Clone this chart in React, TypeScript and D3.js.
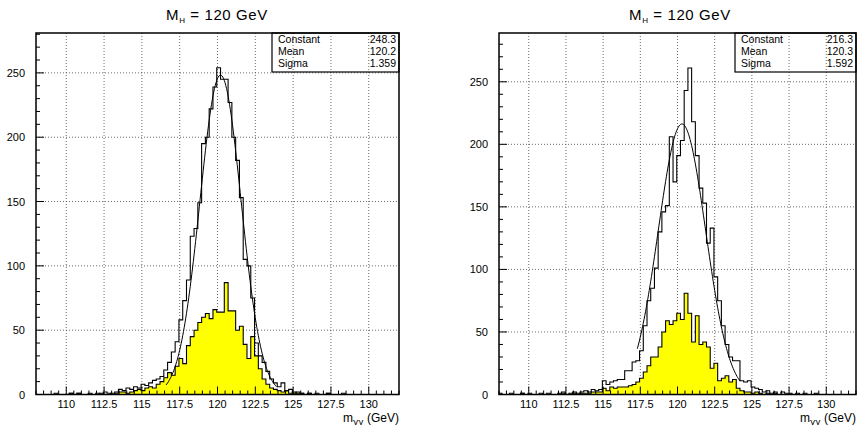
import React from "react";
import * as d3 from "d3";

// histogram binning (GeV)
const BIN_START = 107.95;
const BIN_WIDTH = 0.25;

// left panel: all events (outline) and subset (yellow)
const leftTotal = [
  0, 0, 0, 0, 0, 1, 0, 0,
  0, 1, 0, 1, 0, 0, 1, 0,
  1, 0, 2, 1, 0, 2, 4, 3,
  5, 4, 6, 5, 8, 7, 9, 11,
  12, 14, 19, 25, 33, 41, 58, 73,
  89, 123, 129, 149, 195, 200, 222, 239,
  254, 245, 245, 227, 200, 182, 153, 105,
  100, 75, 40, 30, 25, 18, 12, 9,
  6, 9, 3, 4, 1, 2, 1, 0,
  1, 0, 1, 0, 0, 1, 0, 0,
  0, 1, 0, 0, 0, 0, 0, 0,
  0, 0, 0, 0, 0, 0, 0, 0, 0,
];
const leftSub = [
  0, 0, 0, 0, 0, 0, 0, 0,
  0, 1, 0, 1, 0, 0, 0, 0,
  0, 1, 0, 0, 1, 1, 2, 2,
  1, 2, 3, 4, 3, 5, 6, 5,
  8, 10, 13, 17, 15, 22, 28, 24,
  38, 45, 50, 56, 60, 63, 59, 66,
  64, 64, 87, 65, 65, 50, 53, 39,
  28, 45, 30, 20, 12, 8, 5, 4,
  3, 2, 3, 1, 2, 1, 1, 0,
  1, 0, 0, 0, 0, 1, 0, 0,
  0, 0, 0, 0, 0, 0, 0, 0,
  0, 0, 0, 0, 0, 0, 0, 0, 0,
];

// right panel
const rightTotal = [
  1, 0, 0, 1, 0, 0, 1, 0,
  1, 0, 0, 1, 0, 1, 0, 0,
  1, 2, 0, 1, 2, 1, 2, 3,
  2, 4, 3, 4, 11, 8, 10, 11,
  12, 12, 19, 19, 26, 27, 35, 55,
  75, 85, 101, 130, 146, 151, 206, 170,
  191, 203, 243, 261, 218, 191, 165, 153,
  121, 133, 94, 75, 55, 40, 30, 27,
  27, 11, 10, 11, 6, 5, 4, 2,
  3, 1, 2, 0, 2, 1, 1, 0,
  1, 0, 1, 0, 0, 1, 0, 0,
  0, 0, 0, 0, 0, 0, 0, 0, 0,
];
const rightSub = [
  0, 0, 0, 0, 0, 0, 1, 0,
  0, 0, 0, 0, 0, 0, 0, 0,
  0, 1, 0, 0, 1, 0, 1, 1,
  1, 2, 2, 2, 5, 3, 6, 5,
  6, 6, 6, 7, 8, 10, 13, 18,
  23, 30, 30, 38, 50, 59, 56, 59,
  65, 60, 81, 65, 42, 63, 40, 42,
  38, 21, 25, 11, 13, 15, 10, 12,
  5, 3, 2, 2, 1, 2, 1, 0,
  1, 0, 1, 0, 0, 0, 0, 0,
  0, 0, 0, 0, 0, 0, 0, 0,
  0, 0, 0, 0, 0, 0, 0, 0, 0,
];

// gaussian fit results
const leftFit = { constant: 248.3, mean: 120.2, sigma: 1.359, from: 116.6, to: 123.9 };
const rightFit = { constant: 216.3, mean: 120.3, sigma: 1.592, from: 117.3, to: 124.2 };

const xTicks = [110, 112.5, 115, 117.5, 120, 122.5, 125, 127.5, 130];
const yTicks = [0, 50, 100, 150, 200, 250];
const X_DOMAIN = [108, 132];

const FONT = "'Liberation Sans', Arial, sans-serif";

type Fit = typeof leftFit;

function Panel({ id, left, right, top, bottom, yMax, total, sub, fit, boxLeft, titleX }: {
  id: string; left: number; right: number; top: number; bottom: number; yMax: number;
  total: number[]; sub: number[]; fit: Fit; boxLeft: number; titleX: number;
}) {
  const x = d3.scaleLinear().domain(X_DOMAIN).range([left, right]);
  const y = d3.scaleLinear().domain([0, yMax]).range([bottom, top]);

  const pts = (vals: number[]) => {
    const p = vals.map((v, i) => [BIN_START + i * BIN_WIDTH, v] as [number, number]);
    p.push([BIN_START + vals.length * BIN_WIDTH, 0]);
    return p;
  };

  const step = d3.line<[number, number]>()
    .x((d) => x(d[0]))
    .y((d) => y(d[1]))
    .curve(d3.curveStepAfter);
  const area = d3.area<[number, number]>()
    .x((d) => x(d[0]))
    .y0(y(0))
    .y1((d) => y(d[1]))
    .curve(d3.curveStepAfter);

  const fitPts = d3.range(fit.from, fit.to + 0.001, 0.05).map((m) => [
    m, fit.constant * Math.exp(-((m - fit.mean) ** 2) / (2 * fit.sigma ** 2)),
  ] as [number, number]);
  const fitLine = d3.line<[number, number]>().x((d) => x(d[0])).y((d) => y(d[1]));

  const xMinor = d3.range(108, 132.01, 0.5);
  const yMinor = d3.range(0, yMax, 10);

  const rows = [
    ["Constant", fit.constant.toFixed(1)],
    ["Mean", fit.mean.toFixed(1)],
    ["Sigma", fit.sigma.toFixed(3)],
  ];

  return (
    <g fontFamily={FONT}>
      <defs>
        <clipPath id={id}>
          <rect x={left} y={top} width={right - left} height={bottom - top} />
        </clipPath>
      </defs>
      {/* grid */}
      <g stroke="#444" strokeWidth={0.8} strokeDasharray="1 2">
        {xTicks.map((t) => (
          <line key={"gx" + t} x1={x(t)} x2={x(t)} y1={top} y2={bottom} />
        ))}
        {yTicks.filter((t) => t > 0).map((t) => (
          <line key={"gy" + t} x1={left} x2={right} y1={y(t)} y2={y(t)} />
        ))}
      </g>
      <g clipPath={`url(#${id})`}>
        <path d={area(pts(sub)) || ""} fill="#ffff00" stroke="none" />
        <path d={step(pts(sub)) || ""} fill="none" stroke="#000" strokeWidth={1.1} />
        <path d={step(pts(total)) || ""} fill="none" stroke="#000" strokeWidth={1.1} />
        <path d={fitLine(fitPts) || ""} fill="none" stroke="#000" strokeWidth={1} />
      </g>
      {/* frame and ticks */}
      <rect x={left} y={top} width={right - left} height={bottom - top} fill="none" stroke="#000" strokeWidth={1.5} />
      <g stroke="#000" strokeWidth={1}>
        {xMinor.map((t) => {
          const major = xTicks.includes(t);
          return <line key={"tx" + t} x1={x(t)} x2={x(t)} y1={bottom} y2={bottom - (major ? 8 : 4)} />;
        })}
        {yMinor.map((t) => {
          const major = t % 50 === 0;
          return <line key={"ty" + t} x1={left} x2={left + (major ? 8 : 4)} y1={y(t)} y2={y(t)} />;
        })}
      </g>
      {xTicks.map((t) => (
        <text key={"lx" + t} x={x(t)} y={bottom + 13} fontSize={11} textAnchor="middle">{t}</text>
      ))}
      {yTicks.map((t) => (
        <text key={"ly" + t} x={left - 11} y={y(t) + 4} fontSize={11} textAnchor="end">{t}</text>
      ))}
      {/* axis title */}
      <text x={right} y={bottom + 27} fontSize={12} textAnchor="end">
        m<tspan fontSize={9} dy={3} fontFamily="'DejaVu Sans', sans-serif">γγ</tspan><tspan dy={-3}> (GeV)</tspan>
      </text>
      {/* title */}
      <text x={titleX} y={20} fontSize={15} textAnchor="middle" letterSpacing={0.6}>
        M<tspan fontSize={8} dy={3}>H</tspan><tspan dy={-3}> = 120 GeV</tspan>
      </text>
      {/* stats box */}
      <rect x={boxLeft} y={top} width={right - boxLeft} height={39} fill="none" stroke="#000" strokeWidth={1.2} />
      {rows.map((r, i) => (
        <g key={r[0]} fontSize={10.5}>
          <text x={boxLeft + 6} y={top + 10 + i * 12}>{r[0]}</text>
          <text x={right - 3} y={top + 10 + i * 12} textAnchor="end">{r[1]}</text>
        </g>
      ))}
    </g>
  );
}

export default function App() {
  return (
    <svg width={862} height={425} style={{ display: "block", position: "absolute", left: 0, top: 0, background: "#fff" }}>
      <Panel id="clipL" left={36} right={399} top={33} bottom={394.5} yMax={281}
        total={leftTotal} sub={leftSub} fit={leftFit} boxLeft={272} titleX={217} />
      <Panel id="clipR" left={499} right={856} top={33} bottom={394.5} yMax={289}
        total={rightTotal} sub={rightSub} fit={rightFit} boxLeft={735} titleX={680} />
    </svg>
  );
}
